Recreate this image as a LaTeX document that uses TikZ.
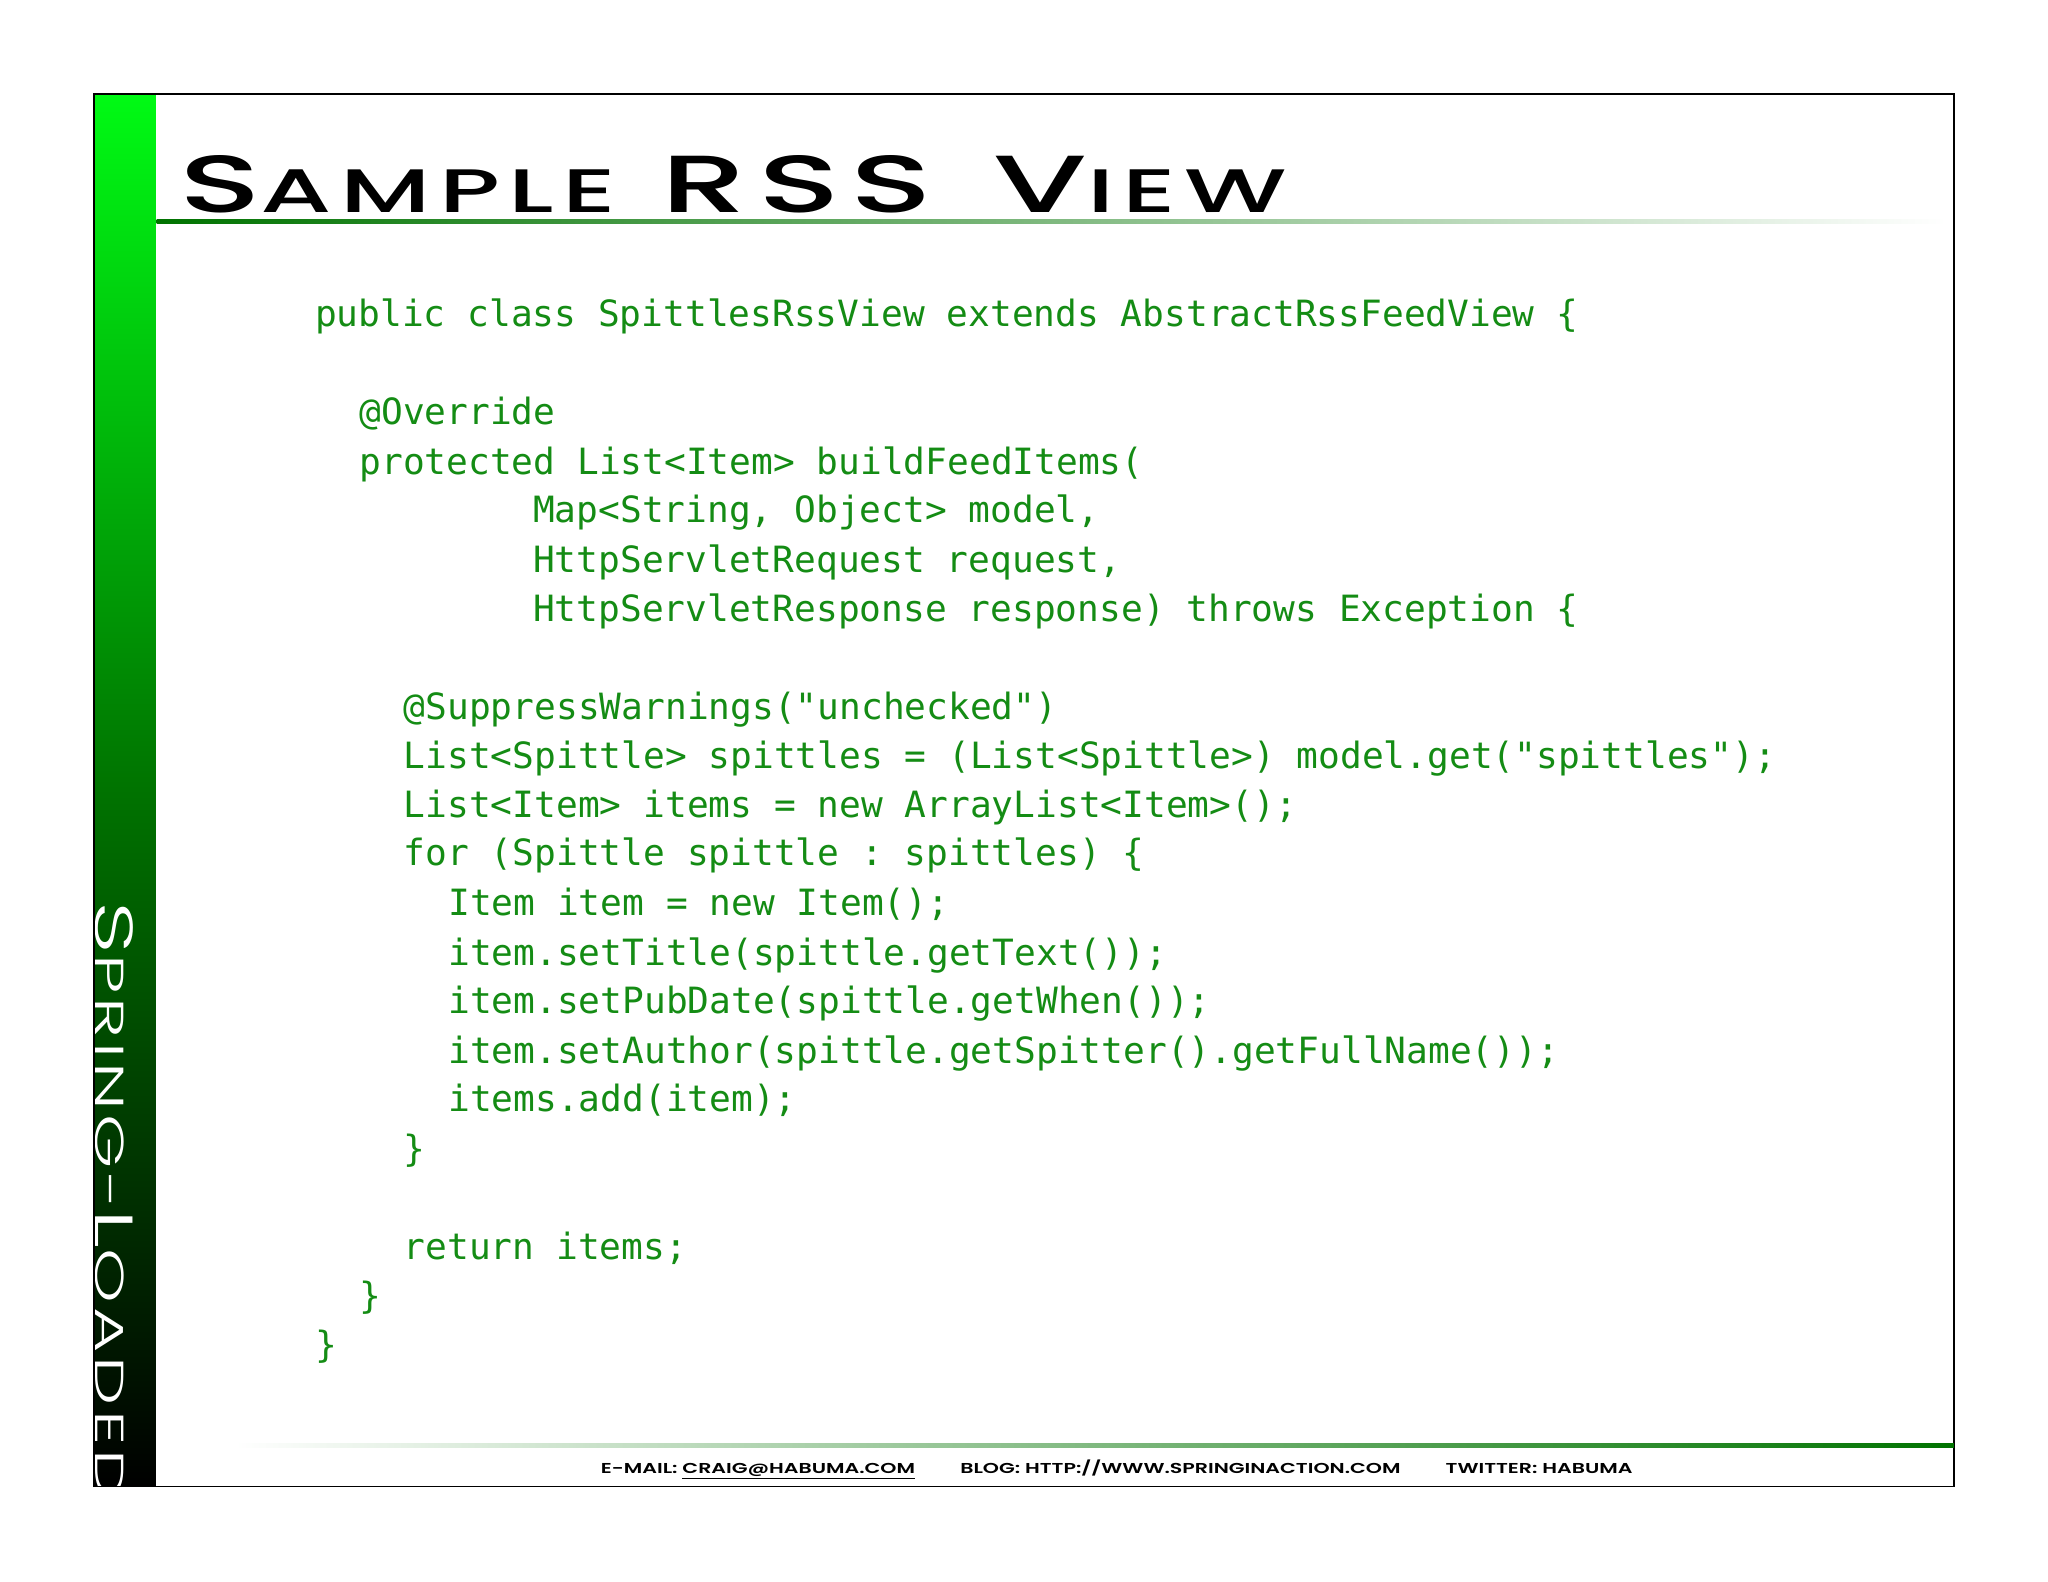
\documentclass[tikz,border=0pt]{standalone}
\usepackage{fontspec}
\setmonofont{DejaVu Sans Mono}
\newfontfamily\ttlfont{Poppins Medium}[LetterSpace=8]
\newfontfamily\sidefont{Poppins Light}[LetterSpace=6]
\newfontfamily\footfont{Poppins SemiBold}
\definecolor{codegreen}{RGB}{20,140,20}
\definecolor{bargreen}{RGB}{0,250,20}
\begin{document}
\begin{tikzpicture}[x=1pt,y=-1pt,
  code/.style={anchor=base west,inner sep=0pt,font=\fontsize{27.7}{30}\ttfamily,text=codegreen}]
\useasboundingbox (0,0) rectangle (1568,1211);
\fill[white] (0,0) rectangle (1568,1211);
% bar
\shade[top color=bargreen,bottom color=black,middle color=green!45!black] (72,72) rectangle (119,1138);
% side text
\begin{scope}
\clip (72,72) rectangle (119,1138);
\node[rotate=-90,anchor=base west,inner sep=0pt,text=white] (side) at (73,690) {\scalebox{1.72}[1]{\sidefont\fontsize{41}{41}\selectfont S\fontsize{31}{31}\selectfont PRING-\fontsize{41}{41}\selectfont L\fontsize{31}{31}\selectfont OADED}};
\end{scope}
\draw[black,line width=1pt] (72,72) rectangle (1496,1138);
% rules
\shade[left color=green!45!black,right color=white] (120,168) rectangle (1490,171);
\shade[left color=white,right color=green!45!black] (180,1105) rectangle (1496,1108);
% title
\node[anchor=base west,inner sep=0pt] (title) at (137,163) {\scalebox{1.67}[1]{\ttlfont\fontsize{62}{62}\selectfont S\fontsize{47}{47}\selectfont AMPLE\hspace{0.45em}\fontsize{62}{62}\selectfont RSS\hspace{0.45em}V\fontsize{47}{47}\selectfont IEW}};
% footer
\node[anchor=base,inner sep=0pt] (foot) at (855,1128) {\scalebox{1.43}[1]{\footfont\fontsize{11}{11}\selectfont E-MAIL: \underline{CRAIG@HABUMA.COM}\hspace{2.2em}BLOG: HTTP://WWW.SPRINGINACTION.COM\hspace{2.2em}TWITTER: HABUMA}};
% code
\node[code] (l1) at (241,250) {public class SpittlesRssView extends AbstractRssFeedView \{};
\node[code] (l2) at (275,325) {@Override};
\node[code] (l3) at (275,363) {protected List<Item> buildFeedItems(};
\node[code] (l4) at (408,400) {Map<String, Object> model,};
\node[code] (l5) at (408,438) {HttpServletRequest request,};
\node[code] (l6) at (408,476) {HttpServletResponse response) throws Exception \{};
\node[code] (l7) at (309,551) {@SuppressWarnings("unchecked")};
\node[code] (l8) at (309,588) {List<Spittle> spittles = (List<Spittle>) model.get("spittles");};
\node[code] (l9) at (309,626) {List<Item> items = new ArrayList<Item>();};
\node[code] (l10) at (309,663) {for (Spittle spittle : spittles) \{};
\node[code] (l11) at (343,701) {Item item = new Item();};
\node[code] (l12) at (343,739) {item.setTitle(spittle.getText());};
\node[code] (l13) at (343,776) {item.setPubDate(spittle.getWhen());};
\node[code] (l14) at (343,814) {item.setAuthor(spittle.getSpitter().getFullName());};
\node[code] (l15) at (343,851) {items.add(item);};
\node[code] (l16) at (309,889) {\}};
\node[code] (l17) at (309,964) {return items;};
\node[code] (l18) at (275,1002) {\}};
\node[code] (l19) at (241,1039) {\}};
\end{tikzpicture}
\end{document}
